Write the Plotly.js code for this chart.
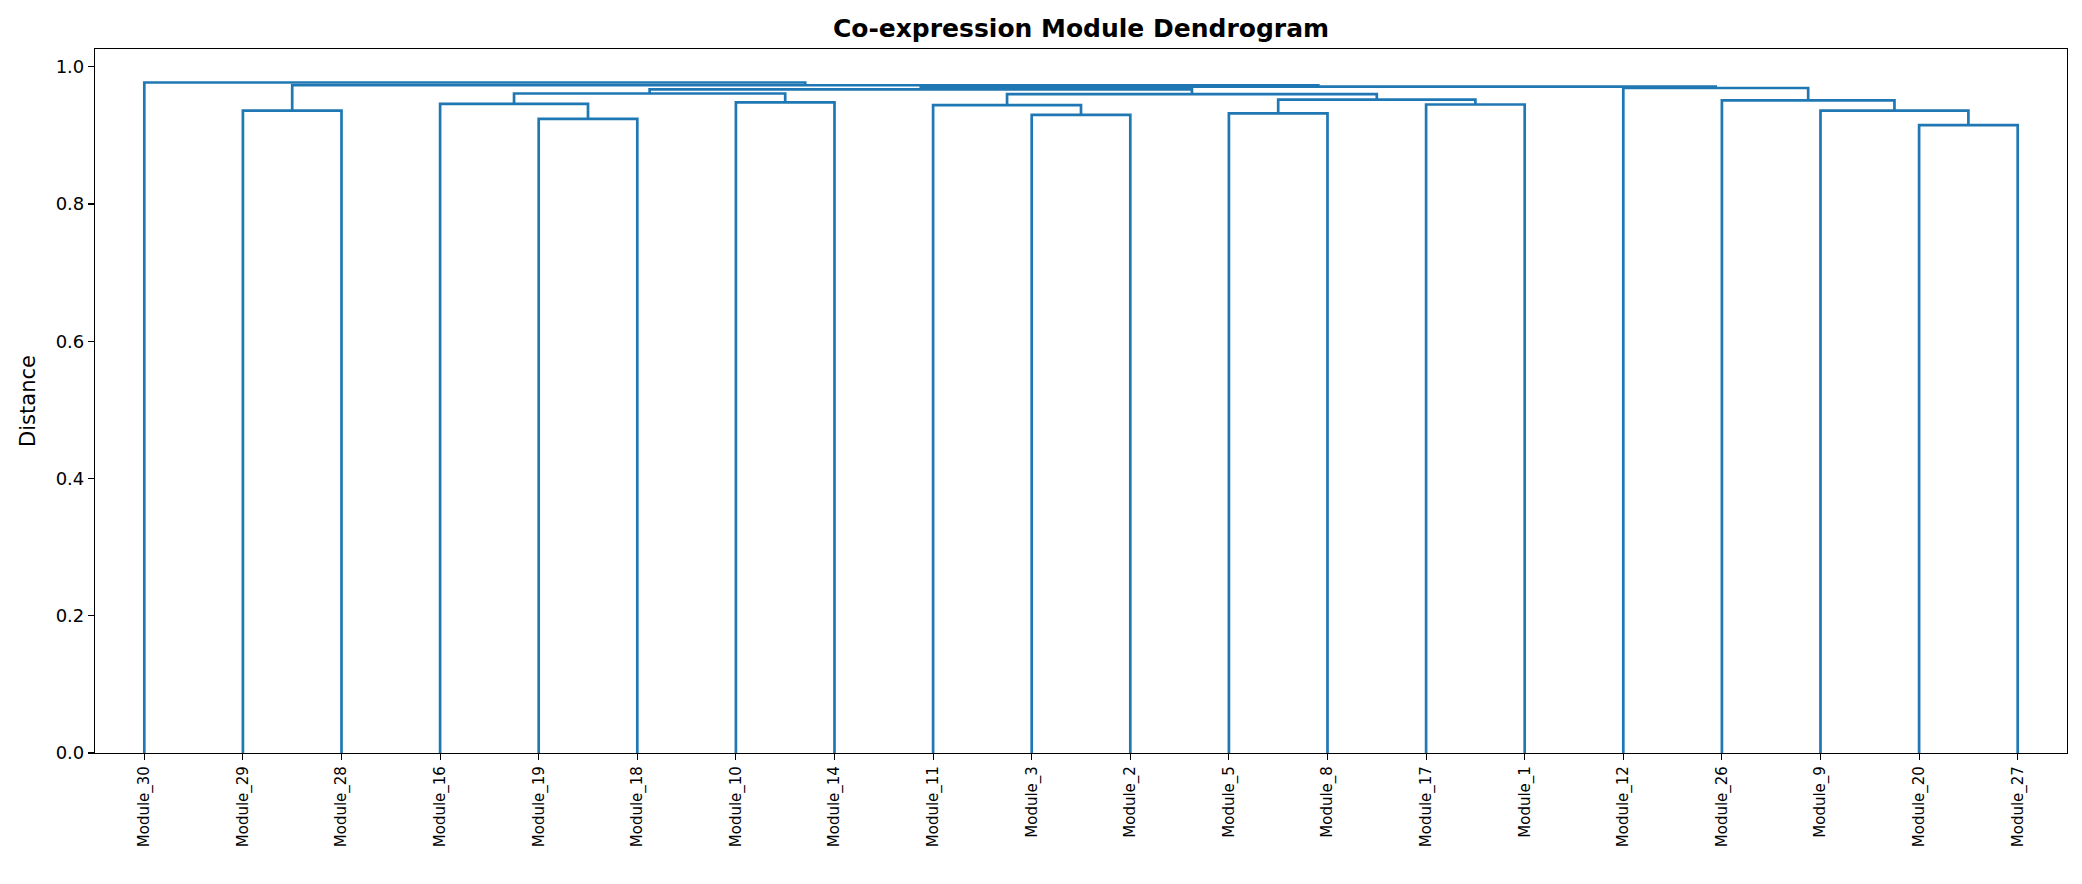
<!DOCTYPE html>
<html>
<head>
<meta charset="utf-8">
<script src="https://cdn.plot.ly/plotly-3.0.1.min.js"></script>
<style>
  html, body { margin: 0; padding: 0; background: #fff; }
  #chart { width: 2082px; height: 884px; }
</style>
</head>
<body>
<div id="chart"></div>
<script>
// leaves in the order they appear along the x axis
const leafNames = [
    'Module_30', 'Module_29', 'Module_28', 'Module_16', 'Module_19',
    'Module_18', 'Module_10', 'Module_14', 'Module_11', 'Module_3',
    'Module_2', 'Module_5', 'Module_8', 'Module_17', 'Module_1',
    'Module_12', 'Module_26', 'Module_9', 'Module_20', 'Module_27'
];

// linkage: merge k creates cluster id 20 + k from (leftChild, rightChild)
// ids below 20 are leaves (index into leafNames)
const leftChild  = [18, 4, 9, 11, 1, 17, 8, 13, 3, 6, 16, 23, 28, 26, 32, 15, 34, 24, 0];
const rightChild = [19, 5, 10, 12, 2, 20, 22, 14, 21, 7, 25, 27, 29, 31, 33, 30, 35, 36, 37];
const mergeHeight = [0.915, 0.924, 0.930, 0.932, 0.936, 0.936, 0.944, 0.945, 0.946, 0.948,
                     0.951, 0.952, 0.961, 0.960, 0.967, 0.969, 0.971, 0.973, 0.977];

// --- dendrogram coordinates, same convention as scipy (leaf i at 5 + 10 i) ---
const nLeaves = leafNames.length;
const posX = {};
const posY = {};
leafNames.forEach((name, i) => { posX[i] = 5 + 10 * i; posY[i] = 0; });

const lineX = [];
const lineY = [];
mergeHeight.forEach((h, k) => {
    const a = leftChild[k], b = rightChild[k];
    const id = nLeaves + k;
    posX[id] = (posX[a] + posX[b]) / 2;
    posY[id] = h;
    lineX.push(posX[a], posX[a], posX[b], posX[b], null);
    lineY.push(posY[a], h, h, posY[b], null);
});

const leafTicks = leafNames.map((name, i) => posX[i]);
const yMax = Math.max(...mergeHeight) * 1.05;

const trace = {
    x: lineX,
    y: lineY,
    type: 'scatter',
    mode: 'lines',
    line: { color: '#1f77b4', width: 2.7 },
    connectgaps: false,
    hoverinfo: 'skip',
    showlegend: false
};

const layout = {
    width: 2082,
    height: 884,
    margin: { l: 95, r: 15, t: 49, b: 131 },
    paper_bgcolor: '#ffffff',
    plot_bgcolor: '#ffffff',
    font: { family: 'DejaVu Sans', color: '#000' },
    title: {
        text: '<b>Co-expression Module Dendrogram</b>',
        font: { family: 'DejaVu Sans', size: 25, color: '#000' },
        x: 0.5 + (95 - 15) / 2 / 2082,
        xanchor: 'center',
        yref: 'container',
        y: 1 - 28 / 884,
        yanchor: 'middle'
    },
    xaxis: {
        range: [0, 10 * nLeaves],
        tickmode: 'array',
        tickvals: leafTicks,
        ticktext: leafNames,
        tickangle: -90,
        tickfont: { family: 'DejaVu Sans', size: 15, color: '#000' },
        ticks: 'outside',
        ticklen: 6,
        tickwidth: 1.1,
        tickcolor: '#000',
        showgrid: false,
        zeroline: false,
        showline: true,
        linecolor: '#000',
        linewidth: 1.1,
        mirror: true
    },
    yaxis: {
        range: [0, yMax],
        tickmode: 'linear',
        tick0: 0,
        dtick: 0.2,
        tickformat: '.1f',
        tickfont: { family: 'DejaVu Sans', size: 18, color: '#000' },
        ticks: 'outside',
        ticklen: 6,
        tickwidth: 1.1,
        tickcolor: '#000',
        showgrid: false,
        zeroline: false,
        showline: true,
        linecolor: '#000',
        linewidth: 1.1,
        mirror: true,
        title: {
            text: 'Distance',
            font: { family: 'DejaVu Sans', size: 21, color: '#000' },
            standoff: 14
        }
    }
};

Plotly.newPlot('chart', [trace], layout, { displayModeBar: false, staticPlot: true });
</script>
</body>
</html>
